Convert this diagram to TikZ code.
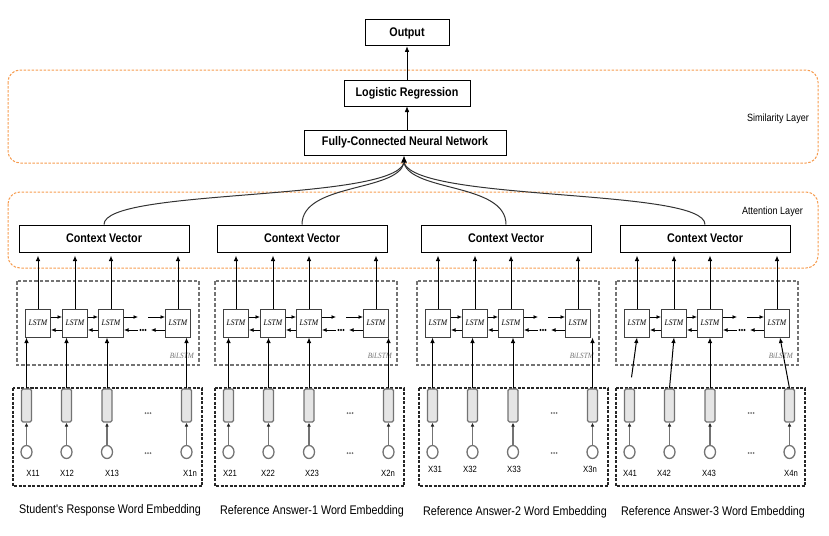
\documentclass[tikz,border=0pt]{standalone}
\usepackage{fontspec}
\setmainfont{Liberation Sans}
\newfontfamily\nar{Liberation Sans}[FakeStretch=0.86]
\newfontfamily\serifit{Liberation Serif}[FakeStretch=0.9]
\usetikzlibrary{arrows.meta,shapes.geometric}
\definecolor{lay}{RGB}{246,156,80}
\begin{document}
\begin{tikzpicture}[x=1pt,y=-1pt,
  tip/.style={-{Latex[length=5.5pt,width=4.5pt]}},
  stip/.style={-{Latex[length=4.5pt,width=4pt]}, line width=1pt},
  bbox/.style={draw, line width=1pt, inner sep=0pt, font=\nar\bfseries\fontsize{12.5}{14}\selectfont},
  cvbox/.style={bbox, minimum width=170pt, minimum height=27pt},
  lstm/.style={draw=black!75, line width=1pt, minimum width=25pt, minimum height=28pt, inner sep=0pt, font=\serifit\itshape\fontsize{8.5}{9}\selectfont},
  laybox/.style={draw=lay, dash pattern=on 2.5pt off 1.5pt, line width=1pt, rounded corners=12pt},
  bilbox/.style={draw=black!55, dash pattern=on 3.5pt off 2pt, line width=1.1pt},
  embbox/.style={draw=black!85, dash pattern=on 3pt off 1.5pt, line width=1.1pt},
  erect/.style={draw=black!55, fill=black!10, line width=1.2pt, rounded corners=1.5pt, minimum width=10pt, minimum height=33pt, inner sep=0pt},
  circ/.style={draw=black!55, line width=1.3pt, ellipse, minimum width=11pt, minimum height=13pt, inner sep=0pt},
  lbl/.style={font=\nar\fontsize{10.5}{12}\selectfont, inner sep=0pt},
  xlbl/.style={font=\nar\fontsize{9}{10}\selectfont, inner sep=0pt},
  botlbl/.style={font=\nar\fontsize{12.5}{14}\selectfont, inner sep=0pt},
  bil/.style={font=\serifit\itshape\fontsize{8}{9}\selectfont, text=black!55, inner sep=0pt},
  curve/.style={line width=1pt, black!80}
]
\useasboundingbox (0,0) rectangle (829,535);

% layers
\draw[laybox] (8,70) rectangle (818,163);
\draw[laybox] (8,192) rectangle (818,268);
\node[lbl, anchor=east] (simlab) at (809,119) {Similarity Layer};
\node[lbl, anchor=east] (attlab) at (803,212) {Attention Layer};

% top chain
\node[bbox, minimum width=84pt, minimum height=26pt] (out) at (407,33) {Output};
\node[bbox, minimum width=126pt, minimum height=26pt] (lr) at (407,93) {Logistic Regression};
\node[bbox, minimum width=202pt, minimum height=25pt] (fc) at (405,142.5) {Fully-Connected Neural Network};
\draw[tip] (lr.north -| out.south) -- (out.south);
\draw[tip] (fc.north -| lr.south) -- (lr.south);
\coordinate (conv) at (404,163);
\draw[-{Latex[length=7pt,width=6pt]}, line width=1pt] (conv) -- (conv |- fc.south);

\foreach \g/\L/\cx/\E in {1/17/104/13, 2/215/302/215, 3/417/506/419, 4/616/705/616} {
  \node[cvbox] (cv\g) at (\cx,238.5) {Context Vector};
  \draw[bilbox] (\L,281) rectangle ++(182,84);
  \node[bil, anchor=east] (bl\g) at (\L+177,356) {BiLSTM};
  \draw[embbox] (\E,388) rectangle ++(189,98);
  \foreach \i/\dx/\ex in {1/21/13.5, 2/58/53.5, 3/94/94, 4/161/173.5} {
    \node[lstm] (l\g\i) at (\L+\dx,323) {LSTM};
    \draw[tip, line width=1pt, shorten >=3pt] (l\g\i.north) -- (l\g\i.north |- cv\g.south);
    \node[erect] (e\g\i) at (\E+\ex,405.5) {};
    \node[circ] (c\g\i) at (\E+\ex,452) {};
    \draw[black!55, line width=1.1pt, -{Latex[length=4pt,width=3.8pt,color=black!85]}] (c\g\i.north) -- (e\g\i.south);
  }
  \foreach \a/\b in {1/2, 2/3} {
    \draw[stip] ([yshift=6pt]l\g\a.east) -- ([yshift=6pt]l\g\b.west);
    \draw[stip] ([yshift=-7pt]l\g\b.west) -- ([yshift=-7pt]l\g\a.east);
  }
  \coordinate (ua\g) at ([xshift=14pt,yshift=6pt]l\g3.east);
  \coordinate (ub\g) at ([xshift=-17pt,yshift=6pt]l\g4.west);
  \coordinate (la\g) at ([xshift=14pt,yshift=-7pt]l\g3.east);
  \coordinate (lb\g) at ([xshift=-14pt,yshift=-7pt]l\g4.west);
  \draw[stip] ([yshift=6pt]l\g3.east) -- (ua\g);
  \draw[stip] (ub\g) -- ([yshift=6pt]l\g4.west);
  \draw[stip] (la\g) -- ([yshift=-7pt]l\g3.east);
  \draw[stip] ([yshift=-7pt]l\g4.west) -- (lb\g);
  \foreach \k in {-2.5,0,2.5} {
    \fill (\L+126+\k,330) circle (1.1pt);
    \fill[black!55] (\E+135+\k,413) circle (1pt);
    \fill[black!55] (\E+135+\k,453) circle (1pt);
  }
}

% inputs to LSTMs
\foreach \g in {1,2,3} {
  \foreach \i in {1,2,3,4} {
    \draw[tip, line width=1pt] (e\g\i.north) -- (e\g\i.north |- l\g\i.south);
  }
}
\draw[tip, line width=1pt] ([xshift=2pt,yshift=11pt]e41.north) -- (l41.south);
\draw[tip, line width=1pt] (e42.north) -- (l42.south);
\draw[tip, line width=1pt] (e43.north) -- (l43.south);
\draw[tip, line width=1pt] (e44.north) -- ([xshift=3pt]l44.south);

% curves to fully connected network
\draw[curve] (cv1.north) .. controls (104,188) and (390,202) .. (conv);
\draw[curve] (cv2.north) .. controls (302,183) and (397,192) .. (conv);
\draw[curve] (cv3.north) .. controls (506,183) and (412,192) .. (conv);
\draw[curve] (cv4.north) .. controls (705,188) and (420,202) .. (conv);

% x labels
\foreach \t/\x/\y in {X11/33/473, X12/67/473, X13/112/473, X1n/190/473,
                      X21/230/473, X22/268/473, X23/312/473, X2n/388/473,
                      X31/435/469, X32/470/469, X33/514/469, X3n/590/469,
                      X41/630/473, X42/664/473, X43/709/473, X4n/791/473} {
  \node[xlbl] (lab\t) at (\x,\y) {\t};
}

% bottom labels
\node[botlbl] (b1) at (110,510) {Student's Response Word Embedding};
\node[botlbl] (b2) at (312,511) {Reference Answer-1 Word Embedding};
\node[botlbl] (b3) at (515,512) {Reference Answer-2 Word Embedding};
\node[botlbl] (b4) at (713,512) {Reference Answer-3 Word Embedding};
\end{tikzpicture}
\end{document}
